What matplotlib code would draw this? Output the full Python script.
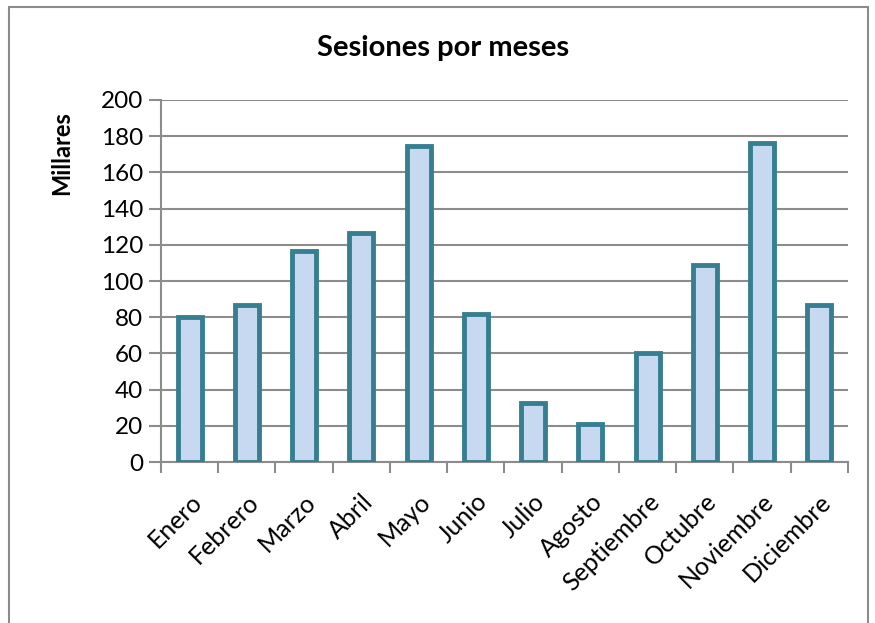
import numpy as np
import matplotlib.pyplot as plt
from matplotlib.patches import Rectangle

meses = ["Enero", "Febrero", "Marzo", "Abril", "Mayo", "Junio", "Julio",
         "Agosto", "Septiembre", "Octubre", "Noviembre", "Diciembre"]
sesiones = [80, 87, 116.5, 126.5, 174.5, 82, 32.5, 21, 60, 109, 176, 86.5]
y_ticks = [0, 20, 40, 60, 80, 100, 120, 140, 160, 180, 200]

plt.rcParams['font.family'] = ['Lato', 'DejaVu Sans']
gris = '#8c8c8c'

fig = plt.figure(figsize=(8.75, 6.23), dpi=100)
ax = fig.add_axes([0.184, 0.2584, 0.785, 0.5811])

x = np.arange(len(meses))
ax.bar(x, sesiones, width=0.42, color='#c6d9f1', edgecolor='#367f91',
       linewidth=3.5, zorder=3)

ax.set_xlim(-0.5, len(meses) - 0.5)
ax.set_ylim(0, 200)
ax.set_yticks(y_ticks)
ax.set_yticklabels([str(v) for v in y_ticks], fontsize=17.5)
ax.yaxis.grid(True, color=gris, linewidth=1.5, zorder=0)
ax.tick_params(axis='y', length=9, width=1.5, color=gris, pad=4)

# ticks between categories, labels under bar centers
ax.set_xticks(np.arange(-0.5, len(meses), 1.0))
ax.set_xticklabels([])
ax.tick_params(axis='x', length=8, width=1.5, color=gris)
ax.set_xticks(x, minor=True)
ax.set_xticklabels(meses, minor=True, rotation=45, ha='right', va='top',
                   rotation_mode='anchor', fontsize=18)
ax.tick_params(axis='x', which='minor', length=0, pad=20)

for s in ['top', 'right']:
    ax.spines[s].set_visible(False)
for s in ['left', 'bottom']:
    ax.spines[s].set_color(gris)
    ax.spines[s].set_linewidth(1.5)

fig.text(443 / 875, 1 - 48 / 623, "Sesiones por meses", fontsize=21,
         fontweight='bold', ha='center', va='center')
fig.text(62 / 875, 1 - 153 / 623, "Millares", fontsize=17, fontweight='bold',
         rotation=90, ha='center', va='center')

# chart border
fig.patches.append(Rectangle((9 / 875, -0.05), (868 - 9) / 875, 1.05 - 7 / 623,
                             transform=fig.transFigure, fill=False,
                             edgecolor=gris, linewidth=1.5))

fig.savefig("out.png", dpi=100)
